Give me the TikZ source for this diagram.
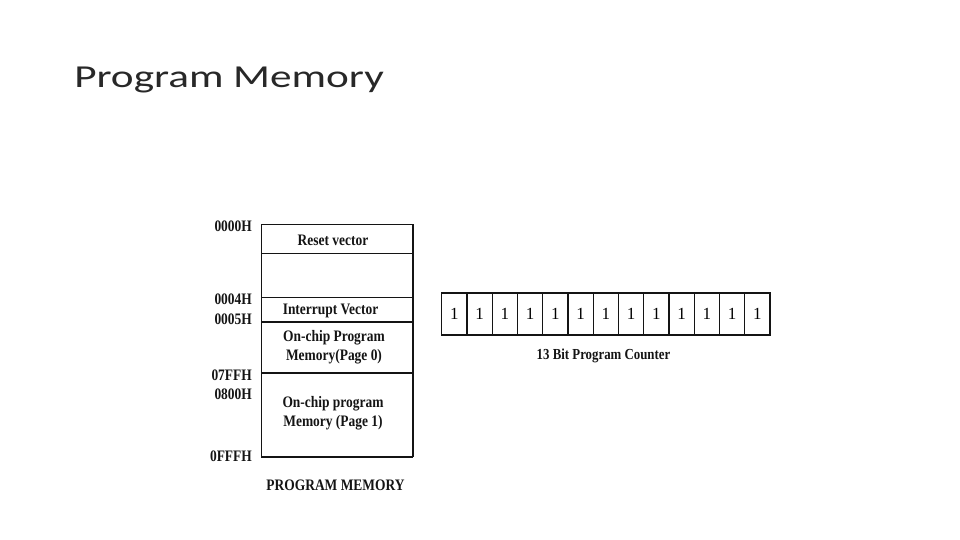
\documentclass[tikz,border=0pt]{standalone}
\usepackage{fontspec}
\usepackage{tikz}
\usetikzlibrary{positioning}
\newfontfamily\memfont{Liberation Serif}
\newfontfamily\slidefont{Carlito}
\definecolor{pmInk}{RGB}{20,20,20}
\definecolor{pmTitle}{RGB}{40,40,40}

\begin{document}
\begin{tikzpicture}[x=1pt, y=-1pt,
  scan/.style={inner sep=0pt, text=pmInk, xscale=0.84, transform shape},
  addr/.style={scan, anchor=east, font=\memfont\bfseries\fontsize{16}{16}\selectfont},
  regiontext/.style={scan, align=center, font=\memfont\bfseries\fontsize{16}{19}\selectfont},
  bitcell/.style={draw=pmInk, line width=1.2pt, minimum width=25.25pt, minimum height=42pt, inner sep=0pt, font=\memfont\fontsize{17}{17}\selectfont}]
  \useasboundingbox (0,0) rectangle (960,540);

  % Slide title
  \node[anchor=base west, inner sep=0pt, text=pmTitle, xscale=1.35, transform shape, font=\slidefont\fontsize{32}{32}\selectfont] (title) at (74,88) {Program Memory};

  % Memory map corners
  \coordinate (mtl) at (261,224.3);
  \coordinate (mtr) at (413,224.3);
  \coordinate (mbl) at (261,456.7);
  \coordinate (mbr) at (413,456.7);

  % Box edges
  \draw[pmInk, line width=0.7pt] (mtl) -- (mbl);
  \draw[pmInk, line width=1.2pt] (mtr) -- (mbr);
  \draw[pmInk, line width=1.6pt] (mtl) -- (mtr);
  \draw[pmInk, line width=1.6pt] (261,253.3) -- (413,253.3);
  \draw[pmInk, line width=1.6pt] (261,297.3) -- (413,297.3);
  \draw[pmInk, line width=1.6pt] (261,321.7) -- (413,321.7);
  \draw[pmInk, line width=1.6pt] (261,372.7) -- (413,372.7);
  \draw[pmInk, line width=1.6pt] (mbl) -- (mbr);

  % Region texts
  \node[regiontext] (reset) at (333,240) {Reset vector};
  \node[regiontext] (intvec) at (330.5,311) {Interrupt Vector};
  \node[regiontext] (page0) at (334,347.5) {On-chip Program\\ Memory(Page 0)};
  \node[regiontext] (page1) at (333,413.5) {On-chip program\\Memory (Page 1)};

  % Addresses
  \node[addr] (a0000) at (252,226) {0000H};
  \node[addr] (a0004) at (252,299) {0004H};
  \node[addr] (a0005) at (252,319) {0005H};
  \node[addr] (a07ff) at (252,375) {07FFH};
  \node[addr] (a0800) at (252,394) {0800H};
  \node[addr] (a0fff) at (252,456) {0FFFH};

  \node[regiontext] (memcap) at (335.5,485) {PROGRAM MEMORY};

  % Program counter bits
  \foreach \i in {1,...,13}
    \node[bitcell] (c\i) at ({441.7+25.25*(\i-0.5)},314) {1};

  \node[regiontext, font=\memfont\bfseries\fontsize{15.3}{15.3}\selectfont] (pccap) at (603.5,356) {13 Bit Program Counter};
\end{tikzpicture}
\end{document}
